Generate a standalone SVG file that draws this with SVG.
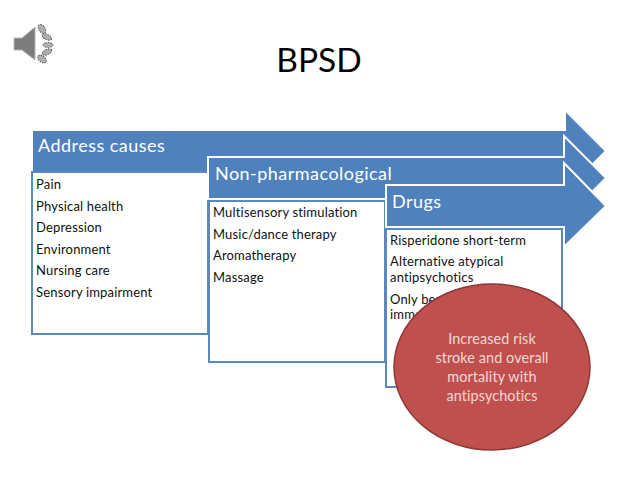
<svg xmlns="http://www.w3.org/2000/svg" width="638" height="479" viewBox="0 0 638 479">
<style>
text{font-family:"Lato","Open Sans","Liberation Sans",sans-serif}
.arrow{fill:#4f81bd;stroke:#fff;stroke-width:2}
.box{fill:#fff;stroke:#5c88bd;stroke-width:2}
.head{font-size:18px;fill:#fff;letter-spacing:.47px}
.item{font-size:13px;fill:#111;letter-spacing:.17px}
.oval{font-size:14.4px;fill:#f0d8d6;text-anchor:middle;letter-spacing:.1px}
</style>
<defs><filter id="soft" x="-20%" y="-20%" width="140%" height="140%"><feGaussianBlur stdDeviation="0.6"/></filter></defs>
<rect width="638" height="479" fill="#fff"/>
<g id="speaker" filter="url(#soft)">
<path d="M14 38 L22 38 L35 27 L35 60 L22 50 L14 50 Z" fill="#7d7d7d" stroke="#b5b5b5"/>
<g fill="#b0b0b0" stroke="#555" stroke-width="1" stroke-dasharray="1.5 1">
<ellipse cx="42" cy="29" rx="3" ry="5" transform="rotate(-35 42 29)"/>
<ellipse cx="47" cy="37" rx="5" ry="2.6" transform="rotate(25 47 37)"/>
<ellipse cx="48" cy="45" rx="5" ry="2.4"/>
<ellipse cx="47" cy="52" rx="5" ry="2.6" transform="rotate(-25 47 52)"/>
<ellipse cx="42" cy="59" rx="5" ry="3" transform="rotate(40 42 59)"/>
</g>
</g>
<g id="title"><text x="319" y="72" font-size="33.5" text-anchor="middle" fill="#000">BPSD</text></g>
<g id="connectors"></g>
<g id="causes">
<path class="arrow" d="M32 130 H565 V110 L606 151 L565 192 V172 H32 Z"/>
<rect class="box" x="32" y="172" width="176" height="162"/>
<text class="head" x="38" y="152">Address causes</text>
<text class="item" x="36" y="189">Pain</text>
<text class="item" x="36" y="211">Physical health</text>
<text class="item" x="36" y="232">Depression</text>
<text class="item" x="36" y="254">Environment</text>
<text class="item" x="36" y="275">Nursing care</text>
<text class="item" x="36" y="297">Sensory impairment</text>
</g>
<g id="nonpharm">
<path class="arrow" d="M208 157 H564 V136 L606 178 L564 220 V199 H208 Z"/>
<rect class="box" x="209" y="201" width="176" height="161"/>
<text class="head" x="215" y="180">Non-pharmacological</text>
<text class="item" x="213" y="217">Multisensory stimulation</text>
<text class="item" x="213" y="239">Music/dance therapy</text>
<text class="item" x="213" y="260">Aromatherapy</text>
<text class="item" x="213" y="282">Massage</text>
</g>
<g id="drugs">
<path class="arrow" d="M386 185 H564 V163 L606 206 L564 247 V227 H386 Z"/>
<rect class="box" x="386" y="229" width="176" height="158"/>
<text class="head" x="392" y="208">Drugs</text>
<text class="item" x="390" y="245">Risperidone short-term</text>
<text class="item" x="390" y="266">Alternative atypical</text>
<text class="item" x="390" y="282">antipsychotics</text>
<text class="item" x="390" y="304">Only benefit</text>
<text class="item" x="390" y="319">immediate</text>
</g>
<g id="risk">
<ellipse cx="492" cy="367" rx="98" ry="83" fill="#c0504d" stroke="#8c3836" stroke-width="1.5"/>
<text class="oval" x="492" y="344">Increased risk</text>
<text class="oval" x="492" y="363">stroke and overall</text>
<text class="oval" x="492" y="382">mortality with</text>
<text class="oval" x="492" y="401">antipsychotics</text>
</g>
</svg>
